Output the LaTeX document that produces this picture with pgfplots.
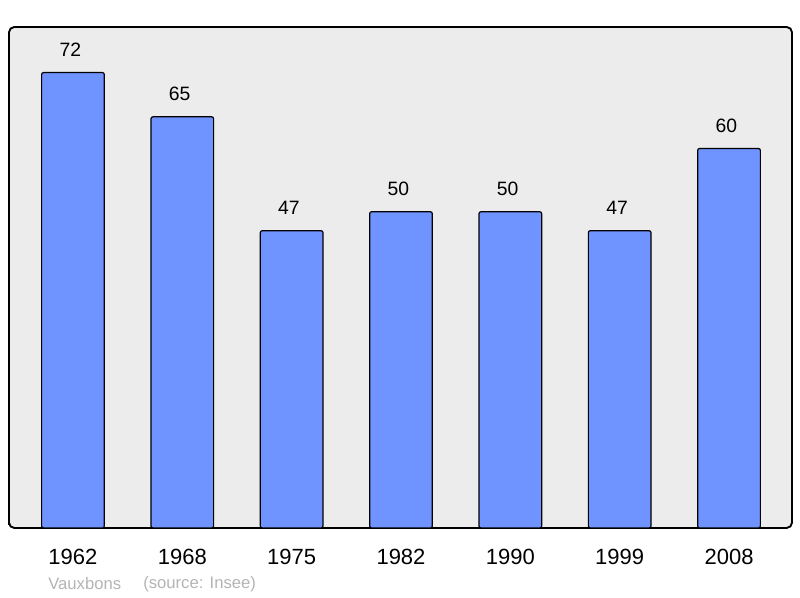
\documentclass[border=0pt]{standalone}
\usepackage{pgfplots}
\pgfplotsset{compat=1.18}
\usepackage{fontspec}
\setmainfont{Liberation Sans}

\definecolor{barblue}{HTML}{7094FF}
\definecolor{panel}{HTML}{ECECEC}
\definecolor{note}{HTML}{B4B4B4}

\begin{document}
\begin{tikzpicture}[x=0.75pt,y=0.75pt]
% page frame: 800 x 598 px, axis box lower left at pixel (9,528)
\useasboundingbox (-9,-70) rectangle (791,528);
\begin{axis}[
  at={(0,0)}, anchor=south west,
  scale only axis,
  width=587.25pt, height=375.75pt,
  ybar, bar width=47pt,
  xmin=-0.585, xmax=6.576,
  ymin=0, ymax=79.2,
  xtick=data,
  xticklabels={1962,1968,1975,1982,1990,1999,2008},
  ytick=\empty,
  major tick length=0pt,
  /pgf/number format/assume math mode=true,
  xticklabel style={font=\fontsize{16.5}{19}\selectfont, yshift=-12.5pt},
  axis background/.style={fill=panel, rounded corners=4pt},
  axis line style={line width=1.4pt, rounded corners=4pt},
  nodes near coords,
  every node near coord/.append style={font=\fontsize{14.5}{17}\selectfont, black, yshift=8pt, xshift=-2pt},
]
\addplot[draw=black, fill=barblue, line width=0.9pt, rounded corners=1.5pt]
coordinates {
  (0,72)
  (1,65)
  (2,47)
  (3,50)
  (4,50)
  (5,47)
  (6,60)
};
\end{axis}
\node[anchor=west, text=note, font=\fontsize{12.5}{15}\selectfont, inner sep=0pt] at (39,-56) {Vauxbons};
\node[anchor=west, text=note, font=\fontsize{12.5}{15}\selectfont, inner sep=0pt] at (134,-56) {(source: Insee)};
\end{tikzpicture}
\end{document}
